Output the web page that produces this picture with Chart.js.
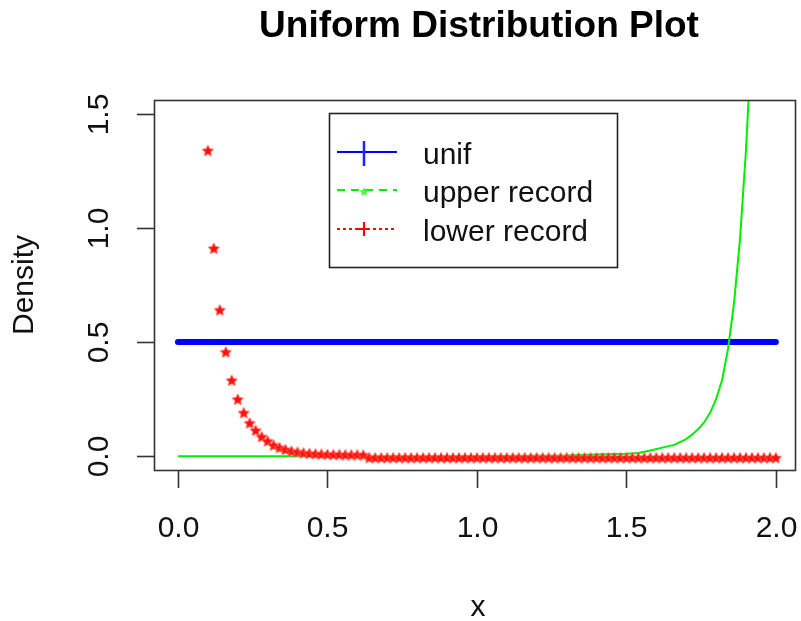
<!DOCTYPE html>
<html><head><meta charset="utf-8">
<script src="https://cdn.jsdelivr.net/npm/chart.js@4"></script>
<style>html,body{margin:0;padding:0;background:#fff}#wrap{width:801px;height:621px}</style>
</head><body><div id="wrap"><canvas id="c" width="801" height="621"></canvas></div>
<script>
const titleText = 'Uniform Distribution Plot';
const xLabel = 'x';
const yLabel = 'Density';
const xTicks = [0, 0.5, 1, 1.5, 2];
const xTickLabels = ['0.0', '0.5', '1.0', '1.5', '2.0'];
const yTicks = [0, 0.5, 1, 1.5];
const yTickLabels = ['0.0', '0.5', '1.0', '1.5'];
const seriesNames = ['unif', 'upper record', 'lower record'];

const unifX = [0, 2];
const unifY = [0.5, 0.5];

const upperX = [0, 0.2, 0.4, 0.6, 0.8, 1.0, 1.2, 1.3, 1.4, 1.46, 1.5, 1.54, 1.58, 1.62, 1.66, 1.7, 1.72, 1.74, 1.76, 1.78, 1.8, 1.82, 1.84, 1.86, 1.88, 1.9, 1.92, 1.94];
const upperY = [0, 0, 0, 0, 0, 0.001, 0.002, 0.003, 0.008, 0.010, 0.011, 0.014, 0.025, 0.038, 0.050, 0.075, 0.095, 0.118, 0.148, 0.19, 0.25, 0.333, 0.47, 0.67, 0.95, 1.34, 1.85, 2.5];

const lowerX = [0.10, 0.12, 0.14, 0.16, 0.18, 0.20, 0.22, 0.24, 0.26, 0.28, 0.30, 0.32, 0.34, 0.36, 0.38, 0.40, 0.42, 0.44, 0.46, 0.48,
  0.50, 0.52, 0.54, 0.56, 0.58, 0.60, 0.62, 0.64, 0.66, 0.68, 0.70, 0.72, 0.74, 0.76, 0.78, 0.80, 0.82, 0.84, 0.86, 0.88,
  0.90, 0.92, 0.94, 0.96, 0.98, 1.00, 1.02, 1.04, 1.06, 1.08, 1.10, 1.12, 1.14, 1.16, 1.18, 1.20, 1.22, 1.24, 1.26, 1.28,
  1.30, 1.32, 1.34, 1.36, 1.38, 1.40, 1.42, 1.44, 1.46, 1.48, 1.50, 1.52, 1.54, 1.56, 1.58, 1.60, 1.62, 1.64, 1.66, 1.68,
  1.70, 1.72, 1.74, 1.76, 1.78, 1.80, 1.82, 1.84, 1.86, 1.88, 1.90, 1.92, 1.94, 1.96, 1.98, 2.00];
const lowerY = [1.345, 0.917, 0.647, 0.463, 0.339, 0.256, 0.197, 0.152, 0.120, 0.092, 0.073, 0.055, 0.044, 0.036, 0.029, 0.025, 0.021, 0.019, 0.017, 0.016,
  0.015, 0.014, 0.014, 0.013, 0.013, 0.013, 0.012, 0, 0, 0, 0, 0, 0, 0, 0, 0, 0, 0, 0, 0,
  0, 0, 0, 0, 0, 0, 0, 0, 0, 0, 0, 0, 0, 0, 0, 0, 0, 0, 0, 0,
  0, 0, 0, 0, 0, 0, 0, 0, 0, 0, 0, 0, 0, 0, 0, 0, 0, 0, 0, 0,
  0, 0, 0, 0, 0, 0, 0, 0, 0, 0, 0, 0, 0, 0, 0, 0];

const FONT = '"Liberation Sans", Arial, sans-serif';

function starPath(ctx, cx, cy, R, r) {
  ctx.beginPath();
  for (let i = 0; i < 10; i++) {
    const ang = -Math.PI / 2 + i * Math.PI / 5;
    const rad = i % 2 === 0 ? R : r;
    const px = cx + rad * Math.cos(ang), py = cy + rad * Math.sin(ang);
    if (i === 0) ctx.moveTo(px, py); else ctx.lineTo(px, py);
  }
  ctx.closePath();
}
function makeStar(color, R, dy) {
  const cv = document.createElement('canvas');
  cv.width = 18; cv.height = 18;
  const g = cv.getContext('2d');
  starPath(g, 9, 9 + dy, R, R * 0.48);
  g.lineWidth = 1.6; g.strokeStyle = 'rgba(255,110,90,0.75)'; g.lineJoin = 'round'; g.stroke();
  g.fillStyle = color; g.fill();
  return cv;
}
const redStar = makeStar('#ff1010', 5.4, 2);

const toPts = (xs, ys) => xs.map((x, i) => ({x: x, y: ys[i]}));

const decor = {
  id: 'decor',
  afterDraw(chart) {
    const ctx = chart.ctx, a = chart.chartArea;
    const xs = chart.scales.x, ys = chart.scales.y;
    ctx.save();
    // box
    ctx.strokeStyle = '#333'; ctx.lineWidth = 1.6;
    ctx.strokeRect(a.left + 0.5, a.top + 0.5, a.right - a.left, a.bottom - a.top);
    // x ticks
    ctx.fillStyle = '#111';
    ctx.font = '30px ' + FONT;
    ctx.textAlign = 'center'; ctx.textBaseline = 'alphabetic';
    xTicks.forEach((v, i) => {
      const px = Math.round(xs.getPixelForValue(v)) + 0.5;
      ctx.beginPath(); ctx.moveTo(px, a.bottom); ctx.lineTo(px, a.bottom + 18); ctx.stroke();
      ctx.fillText(xTickLabels[i], px, 537);
    });
    // y ticks
    yTicks.forEach((v, i) => {
      const py = Math.round(ys.getPixelForValue(v)) + 0.5;
      ctx.beginPath(); ctx.moveTo(a.left, py); ctx.lineTo(a.left - 17, py); ctx.stroke();
      ctx.save(); ctx.translate(108, py); ctx.rotate(-Math.PI / 2);
      ctx.fillText(yTickLabels[i], 0, 0); ctx.restore();
    });
    // axis titles
    ctx.fillText(xLabel, 478, 616);
    ctx.save(); ctx.translate(33, (a.top + a.bottom) / 2); ctx.rotate(-Math.PI / 2);
    ctx.fillText(yLabel, 0, 0); ctx.restore();
    // title
    ctx.font = 'bold 37px ' + FONT;
    ctx.fillStyle = '#000';
    ctx.fillText(titleText, 479, 37);
    // legend
    const bx = 329, by = 113, bw = 288, bh = 154;
    ctx.fillStyle = '#fff'; ctx.fillRect(bx, by, bw, bh);
    ctx.strokeStyle = '#222'; ctx.lineWidth = 1.6;
    ctx.strokeRect(bx + 0.5, by + 0.5, bw, bh);
    const rows = [152, 190, 229];
    const colors = ['#0000ff', '#00ee00', '#ff0000'];
    const dashes = [[], [8, 6], [3, 3]];
    rows.forEach((ry, i) => {
      ctx.strokeStyle = colors[i]; ctx.lineWidth = 2; ctx.setLineDash(dashes[i]);
      ctx.beginPath(); ctx.moveTo(337, ry); ctx.lineTo(397, ry); ctx.stroke();
      ctx.setLineDash([]);
    });
    // markers
    ctx.strokeStyle = '#2020ff'; ctx.lineWidth = 2.5;
    ctx.beginPath(); ctx.moveTo(364, 141); ctx.lineTo(364, 166); ctx.stroke();
    ctx.fillStyle = '#44ff44';
    starPath(ctx, 364, 192, 5, 2.2); ctx.fill();
    ctx.strokeStyle = '#ff0000'; ctx.lineWidth = 2.2;
    ctx.beginPath(); ctx.moveTo(364, 222); ctx.lineTo(364, 236); ctx.moveTo(358, 229); ctx.lineTo(370, 229); ctx.stroke();
    ctx.fillStyle = '#111'; ctx.font = '30px ' + FONT; ctx.textAlign = 'left';
    rows.forEach((ry, i) => ctx.fillText(seriesNames[i], 423, ry + 12));
    ctx.restore();
  }
};

new Chart(document.getElementById('c'), {
  type: 'scatter',
  data: {
    datasets: [
      {label: seriesNames[0], data: toPts(unifX, unifY), showLine: true, borderColor: '#0000ff', borderWidth: 6,
       borderCapStyle: 'round', pointRadius: 0, order: 3},
      {label: seriesNames[1], data: toPts(upperX, upperY), showLine: true, borderColor: '#00ee00', borderWidth: 2,
       pointRadius: 0, order: 2, clip: 0},
      {label: seriesNames[2], data: toPts(lowerX, lowerY), showLine: false, pointStyle: redStar, pointRadius: 5,
       backgroundColor: '#ff0000', borderColor: '#ff0000', order: 1}
    ]
  },
  options: {
    responsive: false, animation: false, devicePixelRatio: 1,
    layout: {padding: {left: 154, top: 100, right: 5, bottom: 151}},
    plugins: {legend: {display: false}, tooltip: {enabled: false}, title: {display: false}},
    scales: {
      x: {type: 'linear', display: false, min: -0.08, max: 2.064},
      y: {type: 'linear', display: false, min: -0.06, max: 1.56}
    }
  },
  plugins: [decor]
});
</script>
</body></html>
